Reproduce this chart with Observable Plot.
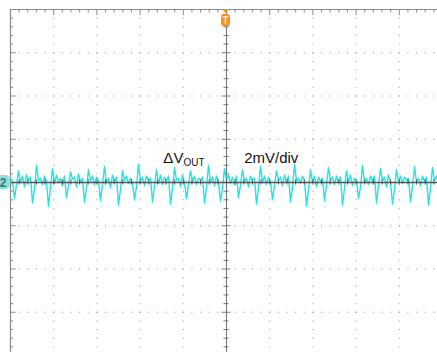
<!DOCTYPE html>
<html>
<head>
<meta charset="utf-8">
<script src="https://cdn.jsdelivr.net/npm/d3@7"></script>
<script src="https://cdn.jsdelivr.net/npm/@observablehq/plot@0.6"></script>
<style>
  html, body { margin: 0; padding: 0; background: #fff; }
  #chart svg { display: block; }
</style>
</head>
<body>
<div id="chart"></div>
<script>
// Output ripple, channel 2 (mV), one sample every 10/216 of a division, left to right
const rippleMv = [
  0.2, 0.05,
  -0.75, -0.1, 0.55, 0.0, 0.3, -0.2, 0.35, 0.1, 0.25,
  -0.95, -0.3, 0.8, 0.1, 0.2, -0.1, 0.3, 0.05,
  -1.1, -0.2, 0.65, -0.05, 0.35, 0.0, 0.2, -0.15, 0.3,
  -0.7, -0.15, 0.5, 0.15, 0.25, -0.2, 0.4, 0.0, 0.2,
  -0.9, -0.25, 0.6, 0.05, 0.3, -0.1, 0.25, 0.1,
  -0.85, -0.1, 0.75, 0.0, 0.2, -0.25, 0.35, 0.05, 0.25,
  -1.05, -0.3, 0.55, 0.1, 0.3, -0.05, 0.2, 0.0,
  -0.8, -0.2, 0.85, 0.05, 0.25, -0.15, 0.3, 0.1, 0.2,
  -0.9, -0.15, 0.6, -0.05, 0.35, -0.1, 0.25, 0.05, 0.3,
  -1.0, -0.25, 0.7, 0.1, 0.2, -0.2, 0.35, 0.0,
  -0.75, -0.1, 0.55, 0.05, 0.3, -0.1, 0.2, 0.1, 0.25,
  -0.95, -0.2, 0.8, 0.0, 0.25, -0.15, 0.3, 0.05,
  -0.85, -0.3, 0.65, 0.1, 0.35, -0.05, 0.25, -0.1, 0.3,
  -0.7, -0.1, 0.6, 0.05, 0.2, -0.2, 0.3, 0.1, 0.2,
  -1.0, -0.25, 0.75, 0.0, 0.3, -0.1, 0.25, 0.05,
  -0.8, -0.15, 0.55, 0.1, 0.25, -0.15, 0.35, 0.0, 0.3,
  -0.9, -0.2, 0.85, 0.05, 0.2, -0.05, 0.3, 0.1,
  -1.1, -0.3, 0.6, 0.0, 0.3, -0.2, 0.25, 0.05, 0.2,
  -0.85, -0.1, 0.7, 0.1, 0.25, -0.1, 0.3, 0.0, 0.25,
  -1.05, -0.25, 0.55, 0.05, 0.35, -0.15, 0.2, 0.1,
  -0.75, -0.2, 0.8, 0.0, 0.2, -0.1, 0.3, 0.05, 0.3,
  -0.95, -0.15, 0.65, 0.1, 0.25, -0.2, 0.35, 0.0,
  -1.0, -0.3, 0.6, 0.05, 0.3, -0.05, 0.25, 0.1, 0.2,
  -0.9, -0.2, 0.75, 0.0, 0.2, -0.15, 0.3, 0.05, 0.25,
  -1.05, -0.25, 0.7, 0.1, 0.3, -0.1
];

// Annotation texts
const signalName = "ΔV";
const signalSub = "OUT";
const scaleLabel = "2mV/div";
const channelTag = "2";
const triggerTag = "T";

// Screen graticule: 10 x 8 divisions, 2 mV per division, 5 minor steps each
const hDivs = 10, vDivs = 8, mvPerDiv = 2, minor = 5;
const xHalf = hDivs / 2, yHalf = vDivs / 2 * mvPerDiv;
const dt = hDivs / 216;

const trace = rippleMv.map((v, i) => ({t: -xHalf + i * dt, v}));

const range = (a, b, s) => d3.range(Math.round((b - a) / s) + 1).map(k => +(a + k * s).toFixed(4));
const xMinor = range(-xHalf, xHalf, 1 / minor);
const yMinor = range(-yHalf, yHalf, mvPerDiv / minor);
const xMajor = range(-xHalf + 1, xHalf - 1, 1).filter(d => d !== 0);
const yMajor = range(-yHalf + mvPerDiv, yHalf - mvPerDiv, mvPerDiv).filter(d => d !== 0);

const gridDots = [
  ...xMajor.flatMap(x => yMinor.map(y => ({x, y}))),
  ...yMajor.flatMap(y => xMinor.map(x => ({x, y})))
];

const isMajorY = y => Math.abs(y / mvPerDiv - Math.round(y / mvPerDiv)) < 1e-6;
const isMajorX = x => Math.abs(x - Math.round(x)) < 1e-6;

const axisColor = "#8a8a8a";
const traceColor = "#22e4e4";

const chart = Plot.plot({
  width: 437,
  height: 352,
  marginLeft: 10,
  marginTop: 9,
  marginRight: -5,
  marginBottom: -3,
  x: {domain: [-xHalf, xHalf], axis: null},
  y: {domain: [-yHalf, yHalf], axis: null},
  style: {background: "#fff", overflow: "hidden"},
  marks: [
    // dotted graticule
    Plot.dot(gridDots, {x: "x", y: "y", r: 0.7, fill: "#b0b0b0", stroke: null}),
    // left and top frame with tick marks
    Plot.ruleX([-xHalf], {stroke: axisColor, strokeWidth: 1.2}),
    Plot.ruleY([yHalf], {stroke: axisColor, strokeWidth: 1.2}),
    Plot.ruleY(yMinor, {y: d => d, x1: -xHalf, x2: d => -xHalf + (isMajorY(d) ? 0.13 : 0.07), stroke: axisColor}),
    Plot.ruleX(xMinor, {x: d => d, y1: yHalf, y2: d => yHalf - (isMajorX(d) ? 0.28 : 0.16), stroke: axisColor}),
    // center vertical axis
    Plot.ruleX([0], {stroke: "#777", strokeWidth: 1.1}),
    Plot.ruleY(yMinor, {y: d => d, x1: d => isMajorY(d) ? -0.1 : -0.06, x2: d => isMajorY(d) ? 0.1 : 0.06, stroke: "#777"}),
    // ripple trace
    Plot.line(trace, {x: "t", y: "v", stroke: traceColor, strokeWidth: 1.4, curve: "linear"}),
    // center horizontal axis
    Plot.ruleY([0], {stroke: "#555", strokeWidth: 1.3}),
    Plot.ruleX(xMinor, {x: d => d, y1: -0.12, y2: 0.12, stroke: "#555"})
  ]
});

const svg = d3.select(chart);
const sx = chart.scale("x"), sy = chart.scale("y");

// signal name with subscript
const name = svg.append("text")
  .attr("x", sx.apply(-1.45)).attr("y", sy.apply(0.86))
  .attr("text-anchor", "start")
  .attr("font-family", "Liberation Sans, Arial, sans-serif")
  .attr("font-size", 15).attr("fill", "#111");
name.append("tspan").text(signalName);
name.append("tspan").attr("font-size", 10).attr("dy", 3).text(signalSub);

svg.append("text")
  .attr("x", sx.apply(0.42)).attr("y", sy.apply(0.86))
  .attr("text-anchor", "start")
  .attr("font-family", "Liberation Sans, Arial, sans-serif")
  .attr("font-size", 15).attr("fill", "#111")
  .text(scaleLabel);

// trigger position marker
const tx = sx.apply(0) - 0.5, ty = sy.apply(yHalf);
const trig = svg.append("g").attr("transform", `translate(${tx},${ty})`);
trig.append("path").attr("d", "M-4,0 L4,0 L0,4 Z").attr("fill", "#f7941d");
trig.append("rect").attr("x", -4.5).attr("y", 5).attr("width", 9).attr("height", 12).attr("rx", 2.5).attr("fill", "#f7941d");
trig.append("text").attr("x", 0).attr("y", 15).attr("text-anchor", "middle")
  .attr("font-family", "Liberation Sans, Arial, sans-serif").attr("font-size", 10).attr("font-weight", "bold")
  .attr("fill", "#fde3c0").text(triggerTag);

// channel ground marker
const gy = sy.apply(0);
const ch = svg.append("g").attr("transform", `translate(0,${gy})`);
ch.append("path").attr("d", "M-3,-7 L6,-7 Q8,-7 9,-5 L11,0 L9,5 Q8,7 6,7 L-3,7 Z").attr("fill", "#8fded8");
ch.append("text").attr("x", 3).attr("y", 4.5).attr("text-anchor", "middle")
  .attr("font-family", "Liberation Sans, Arial, sans-serif").attr("font-size", 12).attr("font-weight", "bold")
  .attr("fill", "#2c7f79").text(channelTag);

document.getElementById("chart").appendChild(chart);
</script>
</body>
</html>
